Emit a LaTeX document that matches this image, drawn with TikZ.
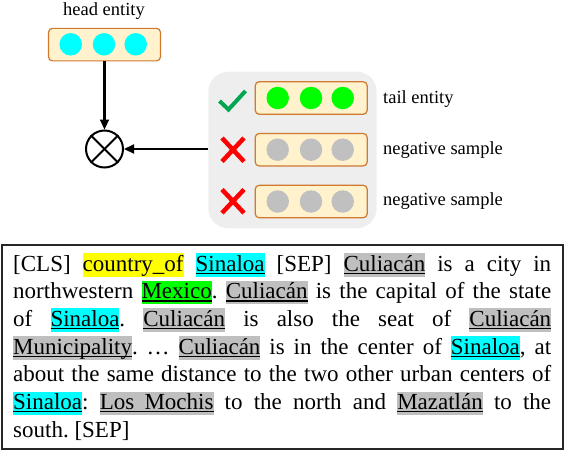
\documentclass[tikz,border=0pt]{standalone}
\usepackage{fontspec}
\setmainfont{Liberation Serif}
\usetikzlibrary{arrows.meta}
\definecolor{boxfill}{HTML}{FFF2CC}
\definecolor{boxdraw}{HTML}{D0792F}
\definecolor{panelgray}{HTML}{EEEEEE}
\definecolor{hlgray}{HTML}{BFBFBF}
\definecolor{hlcyan}{HTML}{00FFFF}
\definecolor{hlyellow}{HTML}{FFFF00}
\definecolor{hlgreen}{HTML}{00FF00}
\definecolor{dotgray}{HTML}{C0C0C0}
\definecolor{checkgreen}{HTML}{00A651}
\definecolor{crossred}{HTML}{FF0000}
\frenchspacing
\newsavebox\entbox
\newcommand\ent[2]{\sbox\entbox{#2}{\setlength\fboxsep{0pt}\colorbox{#1}{\rule[-5.5pt]{0pt}{23.5pt}\rlap{\rule[-2.8pt]{\wd\entbox}{1.3pt}}\usebox\entbox}}}
\newcommand\entnu[2]{{\setlength\fboxsep{0pt}\colorbox{#1}{\rule[-5.5pt]{0pt}{23.5pt}#2}}}
\newcommand\jline[1]{\hbox to 538pt{#1}}
\begin{document}
\begin{tikzpicture}[x=1pt,y=-1pt,
  vecbox/.style={draw=boxdraw, fill=boxfill, rounded corners=4pt, line width=1.2pt,
    minimum width=112pt, minimum height=32.5pt, inner sep=0pt},
  dot/.style={circle, inner sep=0pt, minimum size=22.5pt},
  lab/.style={anchor=base west, inner sep=0pt, font=\fontsize{18.5}{20}\selectfont},
  txt/.style={anchor=base west, inner sep=0pt, font=\fontsize{23}{27}\selectfont\frenchspacing},
  arr/.style={-{Triangle[length=10pt,width=9pt]}, line width=2.2pt}]
\useasboundingbox (0,0) rectangle (564,450);

% head entity
\node[anchor=base, inner sep=0pt, font=\fontsize{18.5}{20}\selectfont] (hl) at (104,15.5) {head entity};
\node[vecbox] (head) at (104.5,44.6) {};
\node[dot, fill=hlcyan] (h1) at (70.7,44.3) {};
\node[dot, fill=hlcyan] (h2) at (104,44.3) {};
\node[dot, fill=hlcyan] (h3) at (135.7,44.3) {};

% product node
\node[circle, draw, line width=2pt, minimum size=37pt, inner sep=0pt] (prod) at (104.5,149) {};
\draw[line width=2pt] (prod.north west) -- (prod.south east);
\draw[line width=2pt] (prod.north east) -- (prod.south west);

% candidate panel
\node[fill=panelgray, rounded corners=20pt, minimum width=168.4pt, minimum height=156.6pt, inner sep=0pt] (panel) at (292.5,150) {};

\node[vecbox] (tail) at (311.2,98) {};
\node[dot, fill=hlgreen] (t1) at (277.7,98) {};
\node[dot, fill=hlgreen] (t2) at (311,98) {};
\node[dot, fill=hlgreen] (t3) at (342.7,98) {};

\node[vecbox] (neg1) at (311.2,149.7) {};
\node[dot, fill=dotgray] (a1) at (277.7,149.7) {};
\node[dot, fill=dotgray] (a2) at (311,149.7) {};
\node[dot, fill=dotgray] (a3) at (342.7,149.7) {};

\node[vecbox] (neg2) at (311.2,201.5) {};
\node[dot, fill=dotgray] (b1) at (277.7,201.5) {};
\node[dot, fill=dotgray] (b2) at (311,201.5) {};
\node[dot, fill=dotgray] (b3) at (342.7,201.5) {};

% marks
\draw[checkgreen, line width=4pt] (219.5,101) -- (228.5,109.5) -- (245.5,91);
\draw[crossred, line width=4.5pt] (222,138) -- (244,161.5) (222,161.5) -- (244,138);
\draw[crossred, line width=4.5pt] (222,189.5) -- (244,213) (222,213) -- (244,189.5);

% labels
\node[lab] (tl) at (383,103) {tail entity};
\node[lab] (n1) at (383,154) {negative sample};
\node[lab] (n2) at (383,205) {negative sample};

% arrows
\draw[arr] (head.south) -- (prod.north);
\draw[arr] (panel.west |- prod.east) -- (prod.east);

% text box
\node[draw=black!85, line width=1.8pt, minimum width=561pt, minimum height=204pt, inner sep=0pt] (tbox) at (282.5,347) {};
\node[txt] (l1) at (13,271) {\jline{[CLS] \entnu{hlyellow}{country\_of} \ent{hlcyan}{Sinaloa} [SEP] \ent{hlgray}{Culiacán} is a city in}};
\node[txt] (l2) at (13,298.7) {\jline{northwestern \ent{hlgreen}{Mexico}. \ent{hlgray}{Culiacán} is the capital of the state}};
\node[txt] (l3) at (13,326.4) {\jline{of \ent{hlcyan}{Sinaloa}. \ent{hlgray}{Culiacán} is also the seat of \ent{hlgray}{Culiacán}}};
\node[txt] (l4) at (13,354.1) {\jline{\ent{hlgray}{Municipality}. … \ent{hlgray}{Culiacán} is in the center of \ent{hlcyan}{Sinaloa}, at}};
\node[txt] (l5) at (13,381.8) {\jline{about the same distance to the two other urban centers of}};
\node[txt] (l6) at (13,409.5) {\jline{\ent{hlcyan}{Sinaloa}: \ent{hlgray}{Los\hspace{4.5pt} Mochis} to the north and \ent{hlgray}{Mazatlán} to the}};
\node[txt] (l7) at (13,437.2) {south. [SEP]};
\end{tikzpicture}
\end{document}
